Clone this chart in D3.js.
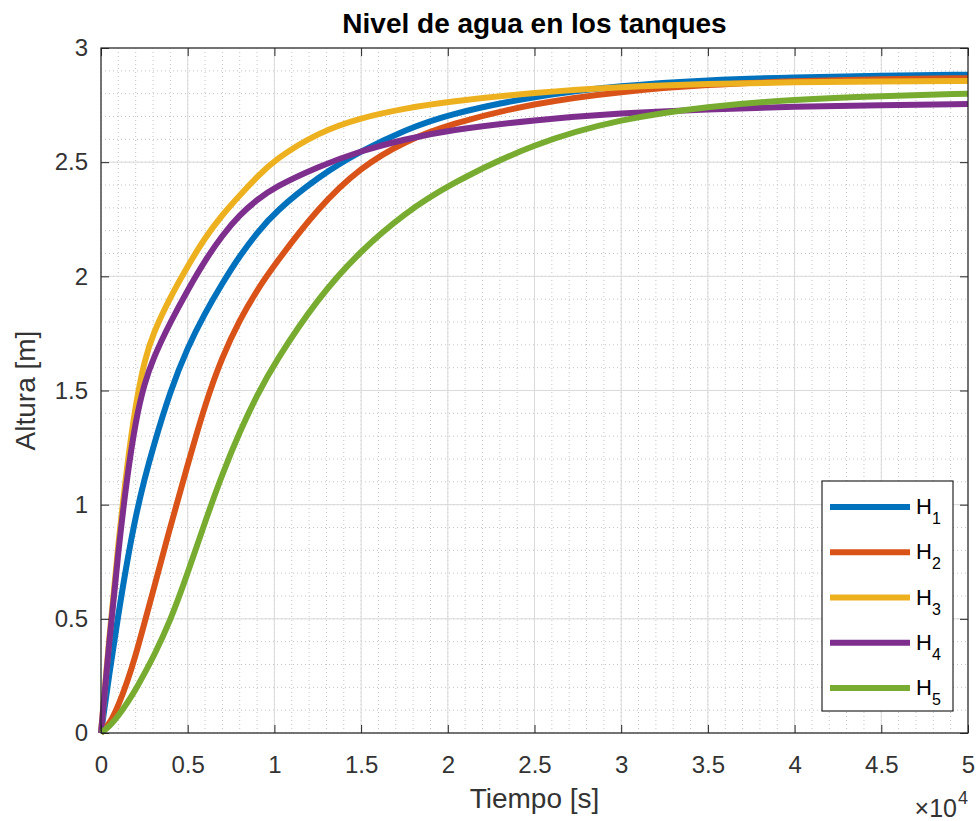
<!DOCTYPE html>
<html>
<head>
<meta charset="utf-8">
<script src="https://cdn.jsdelivr.net/npm/d3@7"></script>
<style>
  body { margin: 0; background: #fff; }
  svg text { font-family: "Liberation Sans", Arial, sans-serif; }
</style>
</head>
<body>
<svg width="977" height="821"></svg>
<script>
// tiempo (x 10^4 s)
var tiempo = [0, 0.05, 0.1, 0.15, 0.2, 0.25, 0.3, 0.4, 0.5, 0.6, 0.7, 0.8, 0.9, 1.0, 1.25, 1.5, 1.75, 2, 2.5, 3, 3.5, 4, 4.5, 5];

var h1 = [0, 0.27, 0.52, 0.75, 0.95, 1.11, 1.25, 1.50, 1.69, 1.84, 1.97, 2.09, 2.19, 2.28, 2.435, 2.55, 2.64, 2.71, 2.79, 2.836, 2.86, 2.872, 2.879, 2.883];
var h2 = [0, 0.04, 0.12, 0.22, 0.34, 0.48, 0.62, 0.905, 1.175, 1.44, 1.65, 1.81, 1.94, 2.05, 2.30, 2.48, 2.59, 2.665, 2.76, 2.81, 2.84, 2.855, 2.864, 2.868];
var h3 = [0, 0.44, 0.83, 1.17, 1.44, 1.63, 1.75, 1.91, 2.045, 2.17, 2.27, 2.355, 2.435, 2.51, 2.63, 2.695, 2.735, 2.765, 2.805, 2.83, 2.843, 2.85, 2.854, 2.856];
var h4 = [0, 0.42, 0.80, 1.12, 1.37, 1.53, 1.64, 1.80, 1.94, 2.07, 2.18, 2.27, 2.335, 2.39, 2.48, 2.55, 2.60, 2.64, 2.685, 2.715, 2.732, 2.743, 2.75, 2.755];
var h5 = [0, 0.03, 0.075, 0.13, 0.19, 0.26, 0.33, 0.49, 0.70, 0.925, 1.135, 1.32, 1.48, 1.62, 1.905, 2.115, 2.275, 2.40, 2.585, 2.69, 2.745, 2.775, 2.79, 2.80];

var nombres = ['1', '2', '3', '4', '5'];
var colores = ['#0072BD', '#D95319', '#EDB120', '#7E2F8E', '#77AC30'];
var series = [h1, h2, h3, h4, h5];

var xTicks = [0, 0.5, 1, 1.5, 2, 2.5, 3, 3.5, 4, 4.5, 5];
var yTicks = [0, 0.5, 1, 1.5, 2, 2.5, 3];

var svg = d3.select('svg');
var box = { l: 101, r: 968, t: 48, b: 733 };

var x = d3.scaleLinear().domain([0, 5]).range([box.l, box.r]);
var y = d3.scaleLinear().domain([0, 3]).range([box.b, box.t]);

// grid
var grid = svg.append('g');
var minorX = d3.range(0, 51).map(function(i) { return i / 10; });
var minorY = d3.range(0, 31).map(function(i) { return i / 10; });

grid.selectAll('.mx').data(minorX).enter().append('line')
    .attr('x1', function(d) { return x(d); }).attr('x2', function(d) { return x(d); })
    .attr('y1', box.t).attr('y2', box.b)
    .attr('stroke', '#c4c4c4').attr('stroke-width', 1).attr('stroke-dasharray', '1,3');
grid.selectAll('.my').data(minorY).enter().append('line')
    .attr('y1', function(d) { return y(d); }).attr('y2', function(d) { return y(d); })
    .attr('x1', box.l).attr('x2', box.r)
    .attr('stroke', '#c4c4c4').attr('stroke-width', 1).attr('stroke-dasharray', '1,3');
grid.selectAll('.gx').data(xTicks).enter().append('line')
    .attr('x1', function(d) { return x(d); }).attr('x2', function(d) { return x(d); })
    .attr('y1', box.t).attr('y2', box.b)
    .attr('stroke', '#dadada').attr('stroke-width', 1);
grid.selectAll('.gy').data(yTicks).enter().append('line')
    .attr('y1', function(d) { return y(d); }).attr('y2', function(d) { return y(d); })
    .attr('x1', box.l).attr('x2', box.r)
    .attr('stroke', '#dadada').attr('stroke-width', 1);

// curves
var line = d3.line()
    .x(function(d) { return x(d[0]); })
    .y(function(d) { return y(d[1]); })
    .curve(d3.curveBasis);

series.forEach(function(s, i) {
    svg.append('path')
        .datum(tiempo.map(function(t, j) { return [t, s[j]]; }))
        .attr('fill', 'none')
        .attr('stroke', colores[i])
        .attr('stroke-width', 6)
        .attr('stroke-linejoin', 'round')
        .attr('d', line);
});

// axes
var fmt = d3.format('~g');
function styleAxis(g) {
    g.select('.domain').remove();
    g.selectAll('line').attr('stroke', '#262626');
    g.selectAll('text').attr('fill', '#333').style('font-size', '24px');
}

svg.append('g').attr('transform', 'translate(0,' + box.b + ')')
    .call(d3.axisBottom(x).tickValues(xTicks).tickFormat(fmt).tickSize(-8).tickPadding(23))
    .call(styleAxis);
svg.append('g').attr('transform', 'translate(0,' + box.t + ')')
    .call(d3.axisTop(x).tickValues(xTicks).tickFormat('').tickSize(-8))
    .call(styleAxis);
svg.append('g').attr('transform', 'translate(' + box.l + ',0)')
    .call(d3.axisLeft(y).tickValues(yTicks).tickFormat(fmt).tickSize(-8).tickPadding(13))
    .call(styleAxis);
svg.append('g').attr('transform', 'translate(' + box.r + ',0)')
    .call(d3.axisRight(y).tickValues(yTicks).tickFormat('').tickSize(-8))
    .call(styleAxis);

svg.append('rect')
    .attr('x', box.l).attr('y', box.t)
    .attr('width', box.r - box.l).attr('height', box.b - box.t)
    .attr('fill', 'none').attr('stroke', '#262626').attr('stroke-width', 1.2);

// title and labels
svg.append('text')
    .attr('x', (box.l + box.r) / 2).attr('y', 33)
    .attr('text-anchor', 'middle')
    .style('font-size', '28px').style('font-weight', 'bold')
    .attr('fill', '#000')
    .text('Nivel de agua en los tanques');

svg.append('text')
    .attr('x', (box.l + box.r) / 2).attr('y', 808)
    .attr('text-anchor', 'middle')
    .style('font-size', '28px')
    .attr('fill', '#333')
    .text('Tiempo [s]');

svg.append('text')
    .attr('transform', 'translate(35,' + ((box.t + box.b) / 2) + ') rotate(-90)')
    .attr('text-anchor', 'middle')
    .style('font-size', '28px')
    .attr('fill', '#333')
    .text('Altura [m]');

svg.append('text')
    .attr('x', 957).attr('y', 817)
    .attr('text-anchor', 'end')
    .style('font-size', '25px')
    .attr('fill', '#333')
    .text('\u00d710');
svg.append('text')
    .attr('x', 958).attr('y', 804)
    .style('font-size', '18px')
    .attr('fill', '#333')
    .text('4');

// legend
var legend = svg.append('g');
legend.append('rect')
    .attr('x', 822).attr('y', 481).attr('width', 131).attr('height', 230)
    .attr('fill', '#fff').attr('stroke', '#262626').attr('stroke-width', 1.2);

var ly = d3.scalePoint().domain(nombres).range([507, 688]);
nombres.forEach(function(n, i) {
    legend.append('line')
        .attr('x1', 830).attr('x2', 910)
        .attr('y1', ly(n)).attr('y2', ly(n))
        .attr('stroke', colores[i]).attr('stroke-width', 6);
    var t = legend.append('text')
        .attr('x', 916).attr('y', ly(n) + 7)
        .style('font-size', '22px').attr('fill', '#000');
    t.append('tspan').text('H');
    t.append('tspan').attr('dy', 10).style('font-size', '16px').text(n);
});
</script>
</body>
</html>
